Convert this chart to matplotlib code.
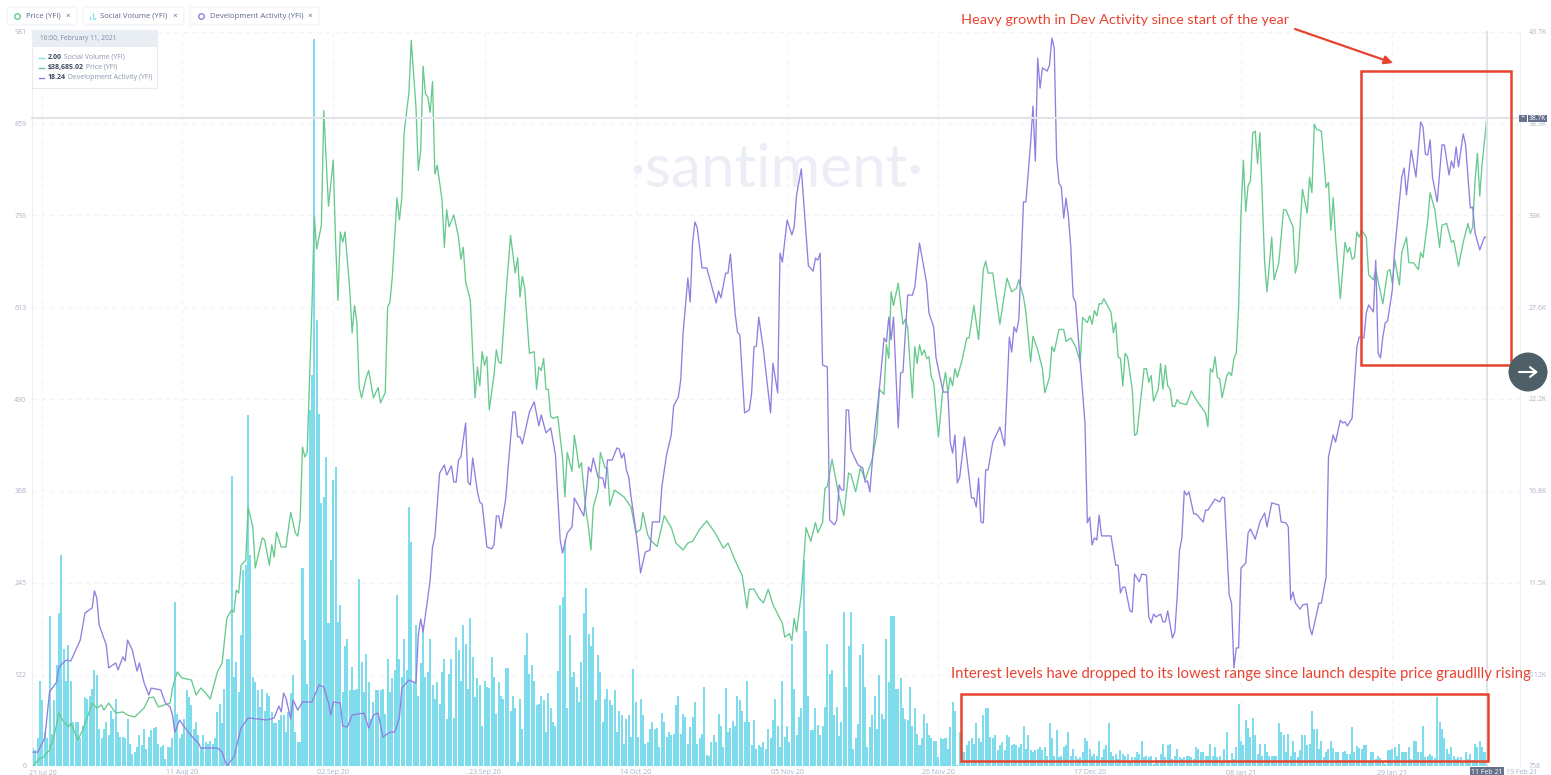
import numpy as np
import matplotlib
matplotlib.use("Agg")
from matplotlib import pyplot as plt
from matplotlib.patches import Rectangle, FancyBboxPatch, Circle

# x is the sample number, the chart has one sample every 8 hours from 21 Jul 20
social_volume = [
    24, 21, 37, 113, 88, 45, 37, 201, 43, 88, 135, 204, 282, 157, 113, 162, 114, 59, 59, 59,
    37, 54, 92, 90, 94, 103, 128, 121, 50, 37, 50, 59, 41, 74, 63, 90, 45, 39, 39, 37,
    63, 30, 16, 19, 25, 41, 28, 50, 23, 39, 48, 51, 52, 30, 25, 28, 10, 25, 25, 37,
    219, 70, 37, 43, 63, 101, 92, 81, 50, 59, 41, 25, 41, 32, 30, 34, 30, 37, 72, 83,
    57, 103, 143, 143, 388, 119, 139, 99, 175, 262, 269, 469, 282, 119, 112, 101, 79, 103, 74, 97,
    94, 72, 57, 57, 61, 68, 68, 45, 72, 97, 121, 45, 32, 32, 265, 168, 110, 476, 523, 972,
    596, 470, 351, 360, 413, 191, 275, 382, 400, 192, 215, 99, 161, 170, 101, 132, 101, 103, 250, 139,
    99, 150, 112, 63, 86, 101, 101, 101, 103, 70, 143, 99, 117, 128, 228, 143,
    119, 170, 128, 346, 300, 112, 188, 94, 137, 188, 119, 126, 170, 108, 90, 112, 83, 126, 143, 63,
    123, 143, 64, 172, 155, 114, 188, 163, 103, 198, 146, 92, 117, 108, 54, 114, 106, 104, 146, 119,
    70, 112, 94, 90, 131, 131, 74, 94, 77, 5, 90, 50, 148, 178, 123, 135, 114, 81, 83, 94,
    88, 45, 97, 77, 59, 53, 127, 215, 226, 302, 77, 175, 119, 126, 106, 86, 139, 204, 238, 176,
    161, 186, 88, 148, 126, 59, 90, 103, 88, 81, 101, 45, 74, 68, 30, 63, 68, 39, 130, 86,
    39, 90, 68, 30, 32, 50, 59, 50, 51, 25, 71, 59, 39, 45, 41, 43, 81, 93, 43, 70,
    65, 30, 52, 65, 86, 30, 37, 43, 106, 15, 14, 32, 41, 32, 70, 54, 25, 104, 45, 51,
    60, 54, 94, 88, 74, 59, 114, 59, 28, 61, 23, 28, 25, 32, 23, 50, 37, 62, 90, 54,
    25, 114, 39, 54, 32, 163, 103, 41, 65, 77, 275, 181, 94, 48, 48, 77, 55, 41, 54, 79,
    163, 123, 128, 68, 79, 40, 59, 206, 106, 160, 206, 23, 37, 56, 148, 163, 106, 25, 52, 68,
    94, 50, 121, 70, 63, 170, 112, 200, 200, 103, 103, 117, 77, 63, 62, 106, 54, 77, 43, 28,
    37, 70, 57, 41, 37, 34, 34, 12, 37, 36, 37, 23, 52, 86, 74, 1, 45, 16, 19, 28,
    34, 37, 30, 57, 37, 32, 68, 77, 77, 39, 37, 41, 21, 28, 32, 21, 41, 39, 28, 30,
    28, 25, 30, 54, 23, 41, 21, 19, 21, 23, 25, 21, 25, 14, 57, 37, 14, 48, 12, 14,
    25, 28, 45, 14, 23, 14, 10, 12, 19, 37, 34, 23, 14, 16, 14, 34, 12, 23, 28, 57,
    19, 14, 16, 10, 21, 16, 14, 16, 5, 12, 12, 19, 16, 34, 12, 14, 12, 14, 3, 12,
    8, 16, 30, 12, 28, 30, 10, 14, 23, 12, 10, 12, 14, 14, 12, 10, 25, 23,
    19, 19, 14, 14, 29, 14, 26, 12, 14, 5, 23, 45, 8, 18, 10, 25, 83, 34, 28, 61,
    51, 39, 64, 41, 16, 29, 14, 30, 19, 14, 14, 14, 14, 57, 45, 41, 19, 43, 14, 34,
    19, 12, 21, 42, 42, 28, 30, 74, 50, 49, 23, 33, 12, 19, 23, 34, 24, 19, 19, 8,
    19, 20, 16, 16, 52, 19, 27, 24, 23, 28, 28, 5, 19, 19, 10, 14, 11, 5, 3, 21,
    21, 23, 25, 14, 30, 19, 19, 19, 25, 10, 34, 34, 19, 19, 54, 12, 14, 16, 14, 11,
    92, 59, 50, 37, 23, 16, 25, 14, 10, 12, 12, 5, 19, 10, 16, 8, 30, 25, 33, 25, 19, 2,
]

# (sample, thousand dollars)
price_points = [
    (0, 0.76), (3, 1.23), (4, 1.23), (7, 1.69), (9, 2.57), (11, 3.86), (13, 3.33), (15, 3.04), (16, 3.27), (19, 2.28),
    (21, 2.86), (23, 3.62), (25, 4.44), (27, 4.15), (29, 4.33), (30, 4.03), (32, 4.44), (35, 3.86), (38, 3.92), (40, 3.74),
    (43, 3.62), (47, 4.15), (49, 4.74), (51, 4.79), (53, 4.21), (58, 4.44), (59, 5.32), (61, 6.26), (63, 5.91), (67, 5.79),
    (69, 4.91), (71, 5.32), (73, 5.03), (75, 4.68), (78, 6.26), (80, 6.78), (82, 9.42), (84, 9.88), (85, 9.76), (86, 11.05),
    (87, 10.88), (88, 12.5), (90, 12.8), (91, 15.9), (93, 14.74), (94, 12.34), (97, 14.1), (98, 13.98), (100, 12.5), (101, 13.69),
    (102, 12.98), (103, 14.45), (105, 13.57), (107, 13.57), (109, 15.6), (111, 14.39), (112, 14.21), (113, 15.15), (114, 19.42), (115, 18.84),
    (116, 19.13), (117, 23.5), (118, 27.6), (119, 32.9), (120, 31.0), (122, 32.4), (123, 39.1), (125, 33.5), (127, 36.2), (128, 31.4),
    (129, 28.0), (130, 32.0), (131, 31.4), (132, 32.0), (134, 28.6), (135, 26.1), (136, 27.7), (137, 26.7), (138, 22.9), (139, 22.3),
    (141, 23.5), (142, 23.9), (144, 22.3), (146, 22.9), (147, 22.0), (149, 22.6), (150, 27.6), (151, 27.9), (152, 29.4), (154, 34.0),
    (155, 32.7), (156, 34.0), (157, 37.8), (158, 39.0), (159, 40.1), (160, 43.2), (162, 39.3), (163, 35.6), (164, 36.8), (165, 41.7),
    (166, 40.1), (167, 39.9), (168, 39.0), (169, 40.8), (170, 35.4), (171, 35.9), (173, 33.9), (174, 31.1), (175, 33.3), (176, 32.3),
    (178, 33.0), (180, 31.7), (181, 30.4), (182, 31.1), (183, 29.1), (185, 28.0), (186, 24.9), (187, 22.3), (188, 24.1), (189, 23.0),
    (190, 25.0), (191, 24.2), (192, 24.7), (193, 21.6), (195, 23.6), (196, 25.1), (197, 24.4), (198, 24.3), (200, 28.2), (202, 31.8),
    (204, 29.6), (205, 30.5), (206, 28.2), (207, 29.4), (208, 28.7), (210, 24.9), (212, 25.0), (213, 22.8), (214, 24.1), (215, 23.9),
    (216, 24.6), (217, 22.8), (218, 22.8), (219, 21.2), (220, 21.1), (222, 21.2), (224, 18.8), (225, 16.5), (226, 19.1), (228, 18.0),
    (229, 20.1), (230, 19.2), (231, 18.2), (232, 18.5), (233, 17.0), (234, 15.6), (235, 14.7), (236, 13.4), (237, 15.9), (239, 16.9),
    (240, 19.1), (242, 18.2), (243, 18.2), (244, 16.0), (246, 16.9), (248, 16.7), (250, 16.5), (253, 15.9), (255, 14.4), (257, 14.6),
    (258, 15.6), (260, 14.3), (261, 14.0), (264, 13.6), (267, 15.4), (270, 14.7), (272, 13.8), (275, 13.4), (277, 13.8), (279, 13.9),
    (282, 14.6), (285, 15.1), (287, 14.7), (289, 14.3), (292, 13.5), (294, 13.8), (297, 12.8), (300, 11.9), (302, 10.0), (303, 11.1),
    (305, 11.1), (307, 10.6), (309, 10.3), (311, 11.1), (313, 10.2), (317, 9.1), (318, 8.3), (320, 8.5), (321, 8.1), (322, 9.4),
    (323, 8.6), (325, 10.8), (327, 14.7), (329, 13.9), (331, 15.0), (332, 14.4), (334, 15.0), (335, 17.0), (336, 17.1), (338, 18.7),
    (341, 16.5), (343, 15.4), (345, 17.9), (346, 17.8), (348, 16.8), (350, 18.2), (352, 17.5), (355, 18.7), (357, 20.2), (358, 22.8),
    (360, 22.5), (361, 25.4), (362, 24.6), (363, 28.5), (364, 27.7), (366, 29.0), (368, 26.6), (369, 26.9), (370, 26.4), (371, 24.3),
    (372, 22.3), (373, 25.3), (374, 24.3), (375, 25.4), (376, 24.8), (377, 25.1), (378, 24.6), (379, 24.7), (380, 23.5), (381, 23.2),
    (383, 20.0), (385, 23.0), (386, 23.8), (387, 22.6), (388, 23.5), (389, 23.0), (390, 24.0), (391, 23.5), (393, 24.5), (395, 25.8),
    (396, 25.8), (398, 27.7), (400, 25.7), (402, 29.8), (403, 30.3), (404, 29.6), (406, 29.6), (409, 26.6), (412, 29.3), (414, 28.5),
    (416, 28.7), (417, 29.2), (419, 28.2), (420, 27.3), (422, 24.4), (423, 25.9), (425, 25.1), (427, 24.0), (428, 22.6), (430, 23.5),
    (431, 25.3), (432, 25.0), (434, 26.3), (436, 26.3), (437, 25.6), (439, 25.8), (441, 25.3), (443, 24.4), (444, 27.0), (446, 26.7),
    (447, 27.1), (448, 26.6), (449, 27.4), (450, 27.1), (451, 27.8), (452, 27.8), (453, 28.1), (456, 27.3), (457, 26.1), (458, 26.7),
    (459, 24.7), (460, 24.6), (461, 23.0), (462, 24.9), (463, 24.7), (465, 22.8), (466, 20.1), (467, 20.2), (470, 24.0), (471, 24.0),
    (472, 23.2), (473, 23.6), (474, 22.1), (476, 22.8), (477, 24.3), (478, 22.8), (479, 24.2), (480, 23.0), (481, 22.8), (482, 21.8),
    (483, 21.8), (484, 22.2), (485, 22.0), (488, 21.9), (490, 22.7), (492, 22.2), (494, 21.8), (496, 21.4), (497, 20.6), (498, 24.0),
    (499, 23.8), (500, 24.7), (501, 23.5), (502, 23.4), (503, 22.3), (505, 23.6), (506, 23.8), (507, 23.6), (508, 24.6), (509, 24.9),
    (510, 27.6), (511, 33.1), (512, 36.2), (513, 33.2), (514, 34.7), (515, 35.0), (516, 37.8), (517, 37.9), (518, 36.0), (519, 37.8),
    (520, 34.0), (521, 30.2), (522, 28.5), (524, 31.7), (525, 29.2), (527, 30.2), (529, 33.3), (530, 33.3), (533, 32.3), (534, 29.6),
    (535, 30.2), (537, 34.5), (539, 33.1), (540, 35.2), (541, 34.3), (542, 38.3), (543, 38.0), (545, 37.9), (547, 34.6), (548, 34.9),
    (549, 32.1), (550, 34.0), (551, 31.7), (553, 28.1), (555, 31.4), (556, 30.8), (557, 31.1), (558, 30.4), (559, 30.5), (560, 32.0),
    (561, 31.7), (562, 32.1), (564, 31.7), (565, 29.5), (567, 29.2), (568, 29.8), (571, 27.8), (573, 29.7), (574, 29.8), (575, 29.0),
    (576, 30.4), (578, 28.9), (579, 30.8), (581, 31.7), (582, 30.2), (584, 30.2), (586, 29.8), (587, 30.8), (588, 30.5), (590, 32.7),
    (591, 34.3), (593, 33.3), (595, 31.1), (596, 32.4), (598, 32.5), (600, 31.4), (601, 31.5), (603, 30.0), (605, 31.4), (607, 32.5),
    (608, 31.9), (609, 32.3), (610, 35.0), (611, 36.6), (612, 34.1), (613, 36.0), (615, 38.69),
]

dev_points = [
    (0, 0.48), (2, 0.48), (5, 0.97), (7, 2.56), (10, 2.90), (11, 3.42), (14, 3.66), (16, 3.63), (20, 4.35), (22, 5.29),
    (25, 5.46), (26, 6.05), (27, 5.80), (28, 4.87), (31, 4.18), (32, 3.39), (35, 3.56), (36, 3.32), (38, 3.77), (39, 3.63),
    (40, 4.35), (42, 4.01), (44, 3.28), (45, 3.56), (47, 2.87), (49, 2.45), (50, 2.69), (54, 2.63), (56, 2.18), (58, 2.04),
    (59, 1.76), (60, 1.17), (62, 1.59), (64, 1.35), (67, 1.04), (70, 0.79), (71, 0.62), (78, 0.62), (80, 0.48), (82, 0.0),
    (85, 0.31), (88, 1.31), (91, 1.66), (99, 1.59), (102, 1.66), (104, 2.07), (105, 1.87), (106, 2.52), (107, 2.35), (109, 1.62),
    (110, 2.28), (112, 1.93), (114, 2.21), (118, 2.21), (121, 2.80), (123, 2.73), (125, 2.18), (126, 1.76), (127, 2.21), (130, 2.18),
    (131, 1.38), (133, 1.35), (135, 1.76), (140, 1.83), (142, 1.31), (144, 1.76), (146, 1.83), (148, 1.00), (151, 1.17), (153, 1.17),
    (155, 1.66), (156, 2.69), (159, 2.97), (162, 2.87), (163, 4.53), (164, 5.08), (165, 4.63), (167, 5.80), (168, 6.43), (169, 7.57),
    (170, 7.91), (172, 10.12), (174, 10.40), (175, 10.05), (177, 10.37), (178, 9.81), (179, 9.81), (180, 10.57), (181, 10.68), (183, 11.85),
    (184, 9.81), (185, 9.71), (186, 10.64), (188, 9.47), (189, 9.12), (190, 9.05), (192, 7.57), (194, 7.50), (195, 7.64), (196, 8.64),
    (197, 8.64), (198, 8.22), (200, 9.26), (201, 10.33), (203, 12.23), (204, 12.23), (205, 11.37), (206, 11.37), (207, 11.13), (210, 12.23),
    (212, 12.58), (214, 11.75), (215, 12.13), (217, 11.51), (219, 11.68), (221, 10.75), (223, 7.81), (224, 7.36), (226, 8.05), (228, 8.26),
    (229, 9.26), (233, 8.64), (234, 9.43), (235, 10.33), (236, 10.16), (237, 10.64), (239, 9.98), (241, 9.95), (242, 9.60), (243, 10.57),
    (245, 10.57), (247, 10.99), (248, 10.95), (249, 10.64), (250, 10.81), (251, 10.23), (252, 9.98), (253, 9.29), (255, 8.15), (256, 7.46),
    (257, 6.67), (259, 7.39), (261, 7.46), (262, 8.43), (265, 8.43), (266, 9.64), (268, 10.75), (270, 11.44), (271, 12.44), (273, 12.75),
    (274, 13.34), (275, 14.96), (277, 16.86), (278, 16.03), (279, 18.07), (280, 18.80), (281, 18.59), (283, 17.21), (285, 17.21), (289, 16.00),
    (290, 16.41), (291, 16.17), (293, 17.03), (294, 17.03), (295, 17.69), (297, 15.65), (298, 14.99), (299, 14.89), (301, 12.20), (303, 12.30),
    (304, 12.89), (305, 14.48), (306, 14.51), (307, 15.51), (309, 14.37), (312, 12.20), (313, 13.92), (315, 12.89), (316, 17.72), (317, 17.41),
    (319, 18.86), (321, 18.35), (322, 18.62), (323, 19.73), (325, 20.63), (328, 17.28), (330, 17.10), (331, 17.55), (332, 17.48), (333, 17.72),
    (334, 13.85), (336, 13.79), (337, 8.50), (339, 8.33), (340, 8.50), (341, 9.71), (342, 9.54), (343, 9.54), (344, 12.30), (345, 12.30),
    (346, 10.92), (349, 10.40), (351, 10.30), (352, 9.81), (353, 9.85), (354, 9.47), (356, 11.51), (358, 12.99), (360, 14.79), (361, 14.65),
    (362, 15.51), (363, 14.72), (364, 15.51), (366, 11.68), (367, 13.58), (368, 13.61), (370, 16.27), (372, 16.27), (373, 16.55), (375, 18.07),
    (378, 16.69), (379, 15.65), (381, 15.17), (382, 14.10), (385, 12.92), (387, 12.92), (388, 11.19), (389, 10.81), (390, 11.44), (391, 9.78),
    (392, 9.98), (394, 11.37), (397, 9.26), (398, 9.26), (399, 8.95), (400, 9.95), (401, 8.43), (402, 8.40), (403, 10.23), (404, 10.23),
    (406, 11.19), (409, 11.71), (411, 11.06), (413, 14.82), (414, 14.30), (415, 15.17), (416, 14.99), (417, 15.41), (419, 19.49), (420, 19.49),
    (422, 21.52), (423, 22.80), (424, 20.90), (425, 24.46), (426, 23.42), (427, 24.12), (429, 24.01), (430, 24.22), (431, 25.15), (432, 24.81),
    (433, 21.01), (434, 20.14), (435, 20.00), (436, 18.93), (437, 19.62), (438, 18.97), (439, 17.93), (440, 16.20), (441, 16.03), (443, 13.92),
    (445, 11.85), (446, 8.40), (447, 8.60), (448, 7.64), (449, 7.88), (450, 7.81), (451, 8.67), (452, 7.95), (456, 7.95), (458, 6.94),
    (459, 6.94), (460, 5.98), (461, 6.18), (462, 6.18), (464, 5.36), (465, 5.32), (466, 6.63), (468, 6.36), (469, 6.63), (471, 6.60),
    (472, 5.15), (473, 4.94), (474, 5.25), (475, 5.15), (477, 5.25), (478, 4.98), (479, 4.98), (480, 5.36), (482, 4.42), (483, 4.63),
    (484, 5.84), (485, 7.46), (486, 7.88), (487, 9.50), (488, 9.36), (489, 9.47), (491, 8.71), (492, 8.71), (495, 8.43), (496, 8.84),
    (497, 8.84), (500, 9.22), (502, 9.12), (503, 9.29), (504, 9.26), (506, 5.91), (507, 5.63), (508, 3.39), (509, 4.08), (510, 4.08),
    (511, 6.84), (513, 7.01), (514, 8.05), (515, 8.19), (517, 7.84), (519, 8.43), (521, 8.74), (522, 8.26), (524, 9.09), (527, 9.02),
    (528, 8.43), (530, 8.40), (531, 8.26), (532, 5.74), (533, 6.01), (534, 5.63), (536, 5.42), (537, 5.56), (539, 5.60), (540, 4.80),
    (541, 4.53), (544, 5.63), (545, 5.63), (547, 6.53), (548, 10.68), (550, 11.44), (551, 11.19), (553, 11.95), (554, 11.85), (555, 11.89),
    (556, 11.75), (558, 12.02), (560, 14.48), (561, 14.82), (563, 14.79), (564, 15.65), (565, 15.93), (567, 15.69), (568, 17.48), (569, 14.27),
    (570, 14.10), (571, 14.82), (572, 15.31), (573, 15.37), (575, 16.45), (576, 17.83), (578, 19.49), (579, 20.35), (580, 20.66), (581, 19.73),
    (583, 21.28), (585, 20.35), (587, 22.25), (588, 22.08), (589, 21.14), (590, 21.11), (591, 21.63), (592, 20.35), (594, 19.49), (596, 21.46),
    (597, 21.46), (599, 20.42), (600, 20.90), (601, 20.66), (602, 21.39), (603, 20.70), (605, 21.84), (606, 21.46), (608, 19.28), (609, 19.31),
    (610, 18.42), (612, 17.83), (614, 18.28), (615, 18.24),
]

date_ticks = [4, 63, 127, 191, 255, 319, 383, 447, 511, 575]
date_labels = ['21 Jul 20', '11 Aug 20', '02 Sep 20', '23 Sep 20', '14 Oct 20', '05 Nov 20',
               '26 Nov 20', '17 Dec 20', '08 Jan 21', '29 Jan 21']
volume_ticks = [0, 122, 245, 368, 490, 613, 736, 859, 981]
price_ticks = [0.758, 6.126, 11.49, 16.86, 22.23, 27.6, 32.97, 38.33, 43.7]
price_labels = ['758', '6.12K', '11.5K', '16.8K', '22.2K', '27.6K', '33K', '38.3K', '43.7K']

BAR = '#7fdcec'
GREEN = '#66c98e'
PURPLE = '#927ee0'
RED = '#e8432f'
TICK = '#a9b2c6'
CROSS = '#e1e3e8'
W, H = 1551, 775

plt.rcParams['font.family'] = ['Open Sans', 'DejaVu Sans']
fig = plt.figure(figsize=(W / 100, H / 100), dpi=100, facecolor='white')

# overlay in image pixels, for the annotations drawn over the chart
over = fig.add_axes([0, 0, 1, 1], zorder=5)
over.set_xlim(0, W)
over.set_ylim(H, 0)
over.axis('off')

L, R, T, B = 32, 1520, 32, 766
ax = fig.add_axes([L / W, 1 - B / H, (R - L) / W, (B - T) / H])
ax_price = ax.twinx()
ax_dev = ax.twinx()

x = np.arange(len(social_volume))
x_lim = ((L - 33) / 2.364, (R - 33) / 2.364)

ax.text(777, 170, '·santiment·', transform=over.transData, ha='center', va='center',
        fontsize=43.5, color='#eceef6', family='Lato', zorder=0)
ax.bar(x, social_volume, width=0.85, color=BAR, zorder=2)
ax.set_xlim(x_lim)
ax.set_ylim(0, 981)
ax.set_yticks(volume_ticks)
ax.set_yticklabels([str(v) for v in volume_ticks])
ax.set_xticks(date_ticks)
ax.set_xticklabels(date_labels)
ax.tick_params(axis='both', length=0, labelsize=5, labelcolor=TICK)
ax.tick_params(axis='x', pad=2)
ax.tick_params(axis='y', pad=4)
ax.grid(True, color='#f2f3f8', linestyle=(0, (4, 4)), linewidth=0.8, zorder=0)
ax.set_axisbelow(True)

ax_price.plot(*zip(*price_points), color=GREEN, linewidth=0.95)
ax_price.set_xlim(x_lim)
ax_price.set_ylim(0.758, 43.7)
ax_price.set_yticks(price_ticks)
ax_price.set_yticklabels(price_labels)
ax_price.tick_params(axis='y', length=0, labelsize=5, labelcolor=TICK, pad=6)

ax_dev.plot(*zip(*dev_points), color=PURPLE, linewidth=0.95)
ax_dev.set_xlim(x_lim)
ax_dev.set_ylim(0, 25.36)
ax_dev.set_yticks([])

for a in [ax, ax_price, ax_dev]:
    for name, spine in a.spines.items():
        spine.set_visible(name in ('left', 'right') and a is ax_price)
        spine.set_color('#eef0f5')
        spine.set_linewidth(0.8)

# crosshair at the last sample
over.plot([L, 1518], [118, 118], color=CROSS, linewidth=1.5, zorder=1)
over.plot([1487, 1487], [T, B], color=CROSS, linewidth=1.5, zorder=1)

# metric chips: box left, box right, text x, close x, name, colour, icon x
chips = [(7, 77, 26, 68, 'Price (YFI)', GREEN, 17), (83, 184, 100, 175, 'Social Volume (YFI)', BAR, None),
         (190, 319, 210, 310, 'Development Activity (YFI)', PURPLE, 201)]
for x0, x1, tx, cx, name, col, ix in chips:
    over.add_patch(FancyBboxPatch((x0, 7), x1 - x0, 18, boxstyle='round,pad=0,rounding_size=2',
                                  fc='white', ec='#f0f1f5', lw=0.8))
    if ix is None:
        for bx, top in [(90, 17), (92.5, 13), (95, 18)]:
            over.plot([bx, bx], [19, top], color=col, linewidth=0.9)
    else:
        over.plot(ix, 16, 'o', ms=4, mfc='white', mec=col, mew=1)
    over.text(tx, 16, name, fontsize=5.6, color='#5c6b85', va='center')
    over.text(cx, 16, '×', fontsize=6, color='#5c6b85', va='center', ha='center')

# tooltip
over.add_patch(Rectangle((32, 30), 125, 58, fc='white', ec='#e8eaf0', lw=0.8, zorder=3))
over.add_patch(Rectangle((32, 30), 125, 16.5, fc='#e9edf4', ec='none', zorder=3))
over.text(40, 38.5, '16:00, February 11, 2021', fontsize=4.8, color='#7f8aa3', va='center', zorder=4)
rows = [(57.5, '2.00', ' Social Volume (YFI)', BAR), (67.5, '$38,685.02', ' Price (YFI)', GREEN),
        (77.5, '18.24', ' Development Activity (YFI)', PURPLE)]
for y, val, name, col in rows:
    over.plot([39, 44], [y, y], color=col, linewidth=1, zorder=4)
    t = over.text(48, y, val, fontsize=5, color='#3d4a63', weight='bold', va='center', zorder=4)
    over.annotate(name, xy=(1, 0.5), xycoords=t, fontsize=5, color='#8a94ab', va='center', zorder=4)

# price tag on the right edge
over.add_patch(Rectangle((1519, 114.5), 8, 7.5, fc='#66718c', ec='none'))
over.text(1523, 118, '+', fontsize=5, color='white', ha='center', va='center')
over.add_patch(Rectangle((1528, 114.5), 19, 7.5, fc='#66718c', ec='none'))
over.text(1537.5, 118, '38.7K', fontsize=4.8, color='white', ha='center', va='center')

# last dates on the x axis
over.text(1487, 772, '11 Feb 21', fontsize=5, color='white', ha='center', va='center',
          bbox=dict(boxstyle='square,pad=0.25', fc='#66718c', ec='none'))
over.text(1522, 772, '19 Feb 21', fontsize=5, color=TICK, ha='center', va='center')

# red markup
over.add_patch(Rectangle((1361, 71), 150, 294, fc='none', ec=RED, lw=1.8))
over.add_patch(Rectangle((961, 694), 527, 67, fc='none', ec=RED, lw=1.8))
over.annotate('', xy=(1393, 63), xytext=(1295, 29),
              arrowprops=dict(arrowstyle='-|>,head_length=0.5,head_width=0.25', color=RED, lw=1.6,
                              shrinkA=0, shrinkB=0))
over.text(961, 20, 'Heavy growth in Dev Activity since start of the year', fontsize=10.4, color=RED,
          va='center', family='Lato')
over.text(951, 674, 'Interest levels have dropped to its lowest range since launch despite price graudllly rising',
          fontsize=10.72, color=RED, va='center', family='Lato')

# next button
over.add_patch(Circle((1528, 372), 19.5, fc='#4f5f68', ec='none'))
over.annotate('', xy=(1538, 372), xytext=(1519, 372),
              arrowprops=dict(arrowstyle='->,head_length=0.45,head_width=0.35', color='white', lw=1.5,
                              shrinkA=0, shrinkB=0))

fig.savefig('out.png', dpi=100)
